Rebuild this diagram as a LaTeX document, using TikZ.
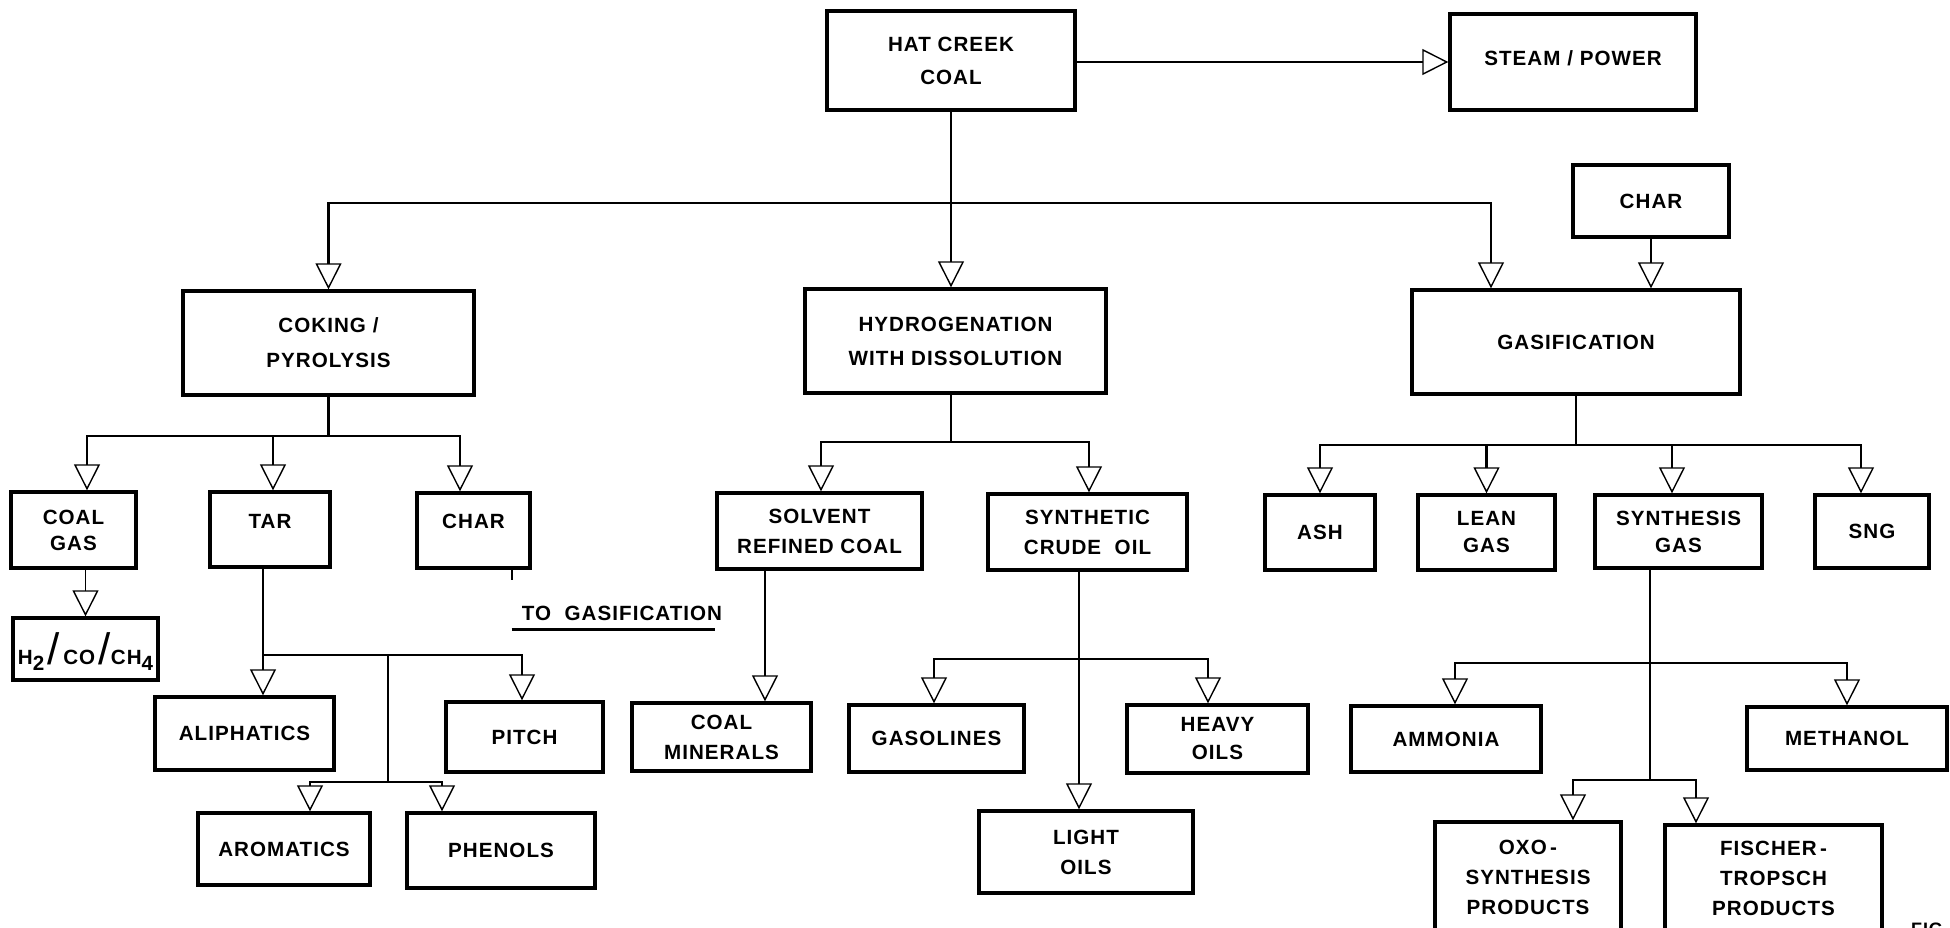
\documentclass[tikz,border=0pt]{standalone}
\usepackage{fontspec}
\setmainfont{Liberation Sans}[LetterSpace=5]
\usetikzlibrary{arrows.meta}
\tikzset{
  box/.style={draw, line width=1.7pt, inner sep=0pt, align=center, font=\fontsize{10.3}{15}\selectfont\bfseries},
  conn/.style={line width=1.3pt},
  arr/.style={conn, -{Triangle[open, length=13pt, width=13pt, line width=0.7pt]}},
  lbl/.style={inner sep=0pt, font=\fontsize{10.3}{15}\selectfont\bfseries},
}
\newcommand{\drawbox}[6]{\node[box, minimum width={(#4-#2)*0.5pt}, minimum height={(#5-#3)*0.5pt}] (#1) at ({(#2+#4)/2},{(#3+#5)/2}) {#6};}
\newcommand{\liftx}[2]{\raisebox{#1}[\height][\depth]{#2}}
\newcommand{\bigslash}{{\fontsize{22}{22}\selectfont\mdseries /}}
\begin{document}
\begin{tikzpicture}[x=0.5pt,y=-0.5pt]
\useasboundingbox (0,0) rectangle (1950,927);
\clip (0,0) rectangle (1950,927);
\fill[white] (0,0) rectangle (1950,927);

% boxes
\drawbox{hat}{827}{11}{1075}{110}{HAT CREEK\\[1.5pt]COAL}
\drawbox{steam}{1450}{14}{1696}{110}{\liftx{2pt}{STEAM / POWER}}
\drawbox{chartop}{1573}{165}{1729}{237}{CHAR}
\drawbox{coking}{183}{291}{474}{395}{COKING /\\[2.5pt]PYROLYSIS}
\drawbox{hydro}{805}{289}{1106}{393}{HYDROGENATION\\[2pt]WITH DISSOLUTION}
\drawbox{gasif}{1412}{290}{1740}{394}{GASIFICATION}
\drawbox{coalgas}{11}{492}{136}{568}{COAL\\[-2pt]GAS}
\drawbox{tar}{210}{492}{330}{567}{\liftx{4pt}{TAR}}
\drawbox{charl}{417}{493}{530}{568}{\liftx{4.5pt}{CHAR}}
\drawbox{htwo}{13}{618}{158}{680}{H\liftx{-3pt}{2}\,\bigslash\,CO\,\bigslash CH\liftx{-3pt}{4}}
\drawbox{aliph}{155}{697}{334}{770}{ALIPHATICS}
\drawbox{pitch}{446}{702}{603}{772}{PITCH}
\drawbox{arom}{198}{813}{370}{885}{AROMATICS}
\drawbox{phen}{407}{813}{595}{888}{PHENOLS}
\drawbox{solvent}{717}{493}{922}{569}{SOLVENT\\REFINED COAL}
\drawbox{synth}{988}{494}{1187}{570}{SYNTHETIC\\CRUDE\ \ OIL}
\drawbox{coalmin}{632}{703}{811}{771}{COAL\\MINERALS}
\drawbox{gasol}{849}{705}{1024}{772}{GASOLINES}
\drawbox{heavy}{1127}{705}{1308}{773}{HEAVY\\[-1pt]OILS}
\drawbox{light}{979}{811}{1193}{893}{LIGHT\\OILS}
\drawbox{ash}{1265}{495}{1375}{570}{ASH}
\drawbox{lean}{1418}{495}{1555}{570}{LEAN\\[-1.5pt]GAS}
\drawbox{synthgas}{1595}{495}{1762}{568}{SYNTHESIS\\[-1.5pt]GAS}
\drawbox{sng}{1815}{495}{1929}{568}{SNG}
\drawbox{ammonia}{1351}{706}{1541}{772}{AMMONIA}
\drawbox{methanol}{1747}{707}{1947}{770}{METHANOL}
\drawbox{oxo}{1435}{822}{1621}{932}{OXO\,-\\SYNTHESIS\\PRODUCTS}
\drawbox{fischer}{1665}{825}{1882}{932}{FISCHER\,-\\TROPSCH\\PRODUCTS}

% free labels
\node[lbl] (tg) at (622,613) {TO\ \ GASIFICATION};
\draw[line width=1.3pt] ([xshift=-5pt,yshift=-4.5pt]tg.south west) -- ([xshift=-4pt,yshift=-4.5pt]tg.south east);
\node[lbl, anchor=north, font=\fontsize{9}{10}\selectfont\bfseries] (fig) at (1930,923) {FIG.};

% top level
\coordinate (b1) at (951,203);
\draw[arr] (steam.west -| hat.east) -- (steam.west);
\draw[arr] (hat.south) -- (hat.south |- hydro.north);
\draw[arr] (b1) -| (coking.north);
\draw[arr] (b1) -| ([xshift=-42.5pt]gasif.north);
\draw[arr] (chartop.south) -- (chartop.south |- gasif.north);

% coking branch
\coordinate (c1) at (328.5,436);
\draw[conn] (coking.south) -- (c1);
\draw[arr] (c1) -| ([xshift=6.75pt]coalgas.north);
\draw[arr] (c1) -| ([xshift=1.5pt]tar.north);
\draw[arr] (c1) -| ([xshift=-6.75pt]charl.north);
\draw[conn] ([xshift=19.25pt]charl.south) -- ++(0,10);
\draw[arr, line width=0.9pt] (htwo.north |- coalgas.south) -- (htwo.north);

% tar branch
\coordinate (t1) at (263,655);
\coordinate (tj) at (388,655);
\coordinate (t2) at (388,782);
\draw[arr] ([xshift=-3.5pt]tar.south) -- ([xshift=-3.5pt]tar.south |- aliph.north);
\draw[arr] (t1) -| ([xshift=-1.25pt]pitch.north);
\draw[conn] (tj) -- (t2);
\draw[arr] (t2) -| ([xshift=13pt]arom.north);
\draw[arr] (t2) -| ([xshift=-29.5pt]phen.north);

% hydrogenation branch
\coordinate (h1) at (951,442);
\draw[conn] (hydro.south -| h1) -- (h1);
\draw[arr] (h1) -| ([xshift=0.75pt]solvent.north);
\draw[arr] (h1) -| ([xshift=0.75pt]synth.north);
\draw[arr] ([xshift=-27.25pt]solvent.south) -- ([xshift=-27.25pt]solvent.south |- coalmin.north);
\coordinate (y1) at (1079,659);
\draw[arr] ([xshift=-4.25pt]synth.south) -- ([xshift=-4.25pt]synth.south |- light.north);
\draw[arr] (y1) -| ([xshift=-1.25pt]gasol.north);
\draw[arr] (y1) -| ([xshift=-4.75pt]heavy.north);

% gasification branch
\coordinate (g1) at (1576,445);
\draw[conn] (gasif.south) -- (g1);
\draw[arr] (g1) -| (ash.north);
\draw[arr] (g1) -| (lean.north);
\draw[arr] (g1) -| ([xshift=-3.25pt]synthgas.north);
\draw[arr] (g1) -| ([xshift=-5.5pt]sng.north);
\coordinate (sg1) at (1650,663);
\coordinate (sg2) at (1650,780);
\draw[conn] ([xshift=-14.25pt]synthgas.south) -- (sg2);
\draw[arr] (sg1) -| ([xshift=4.5pt]ammonia.north);
\draw[arr] (sg1) -| (methanol.north);
\draw[arr] (sg2) -| ([xshift=22.5pt]oxo.north);
\draw[arr] (sg2) -| ([xshift=-38.75pt]fischer.north);
\end{tikzpicture}
\end{document}
